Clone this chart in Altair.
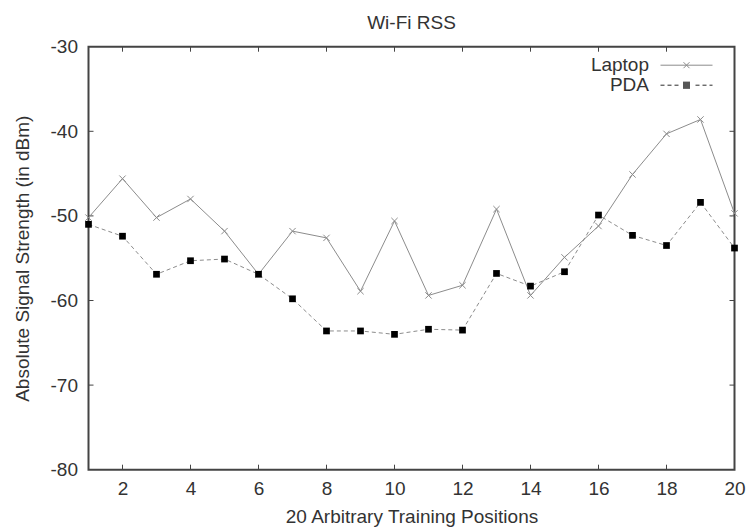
import altair as alt
import pandas as pd

positions = list(range(1, 21))
laptop = [-50.2, -45.6, -50.2, -48.0, -51.8, -56.9, -51.8, -52.6, -58.9, -50.6,
          -59.4, -58.2, -49.2, -59.4, -54.9, -51.2, -45.1, -40.3, -38.6, -49.7]
pda = [-51.0, -52.4, -56.9, -55.3, -55.1, -56.9, -59.8, -63.6, -63.6, -64.0,
       -63.4, -63.5, -56.8, -58.3, -56.6, -49.9, -52.3, -53.5, -48.4, -53.8]
series_names = ["Laptop", "PDA"]
x_ticks = [2, 4, 6, 8, 10, 12, 14, 16, 18, 20]
x_inner_ticks = [2, 4, 6, 8, 10, 12, 14, 16, 18]
y_ticks = [-30, -40, -50, -60, -70, -80]
y_inner_ticks = [-40, -50, -60, -70]

W, H = 646, 423
FONT = "Liberation Sans"
FS = 19
TXT = "#333333"
GRAY = "#8c8c8c"
FRAME = "#444444"

df = pd.DataFrame({
    "pos": positions * 2,
    "rss": laptop + pda,
    "series": ["Laptop"] * 20 + ["PDA"] * 20,
})
xt = pd.DataFrame({"v": x_inner_ticks})
yt = pd.DataFrame({"v": y_inner_ticks})

xscale = alt.Scale(domain=[1, 20], nice=False, zero=False)
yscale = alt.Scale(domain=[-80, -30], nice=False, zero=False)

xenc = alt.X("pos:Q", scale=xscale, axis=alt.Axis(
    values=x_ticks, ticks=False, domain=False, grid=False, labelPadding=10,
    title="20 Arbitrary Training Positions", titleY=46.5, titleBaseline="middle",
    titleFontWeight="normal", labelFlush=False))
yenc = alt.Y("rss:Q", scale=yscale, axis=alt.Axis(
    values=y_ticks, ticks=False, domain=False, grid=False, labelPadding=11,
    labelExpr="'' + datum.value",
    title="Absolute Signal Strength (in dBm)", titleX=-66, titleY=H / 2,
    titleBaseline="middle", titleAlign="center", titleFontWeight="normal"))

cross_path = "M-1,-1L1,1M-1,1L1,-1"

lap_line = alt.Chart(df).transform_filter("datum.series == 'Laptop'").mark_line(
    color=GRAY, strokeWidth=1).encode(x=xenc, y=yenc)
pda_line = alt.Chart(df).transform_filter("datum.series == 'PDA'").mark_line(
    color=GRAY, strokeWidth=1, strokeDash=[4, 3]).encode(x=xenc, y=yenc)
lap_pts = alt.Chart(df).transform_filter("datum.series == 'Laptop'").mark_point(
    shape=cross_path, size=40, filled=False, stroke=GRAY, strokeWidth=1, opacity=1
).encode(x=xenc, y=yenc)
pda_pts = alt.Chart(df).transform_filter("datum.series == 'PDA'").mark_point(
    shape="square", size=45, filled=True, color="black", opacity=1
).encode(x=xenc, y=yenc)

# legend symbols: sample line + marker drawn as strokes (unit r = 5px)
leg_lap = "M-5.2,0H5.2M-0.6,-0.6L0.6,0.6M-0.6,0.6L0.6,-0.6"
parts = []
x0 = -5.2
while x0 < 5.2:
    x1 = min(x0 + 0.8, 5.2)
    if x1 < -1.0 or x0 > 1.0:
        parts.append(f"M{x0:.2f},0H{x1:.2f}")
    x0 += 1.4
yy = -0.6
while yy <= 0.61:
    parts.append(f"M-0.7,{yy:.2f}H0.7")
    yy += 0.2
leg_pda = "".join(parts)

leg = alt.Legend(title=None, orient="none", legendX=588.5, legendY=9,
                 padding=0, rowPadding=0, symbolSize=100,
                 symbolStrokeWidth=1, symbolOpacity=1,
                 labelAlign="right", labelOffset={"expr": "-47"},
                 labelFont=FONT, labelFontSize=FS, labelColor=TXT,
                 labelLimit=200)

legend_layer = alt.Chart(df).transform_filter("datum.pos < 0").mark_point(
    filled=False, strokeWidth=1, opacity=1
).encode(
    x=alt.X("pos:Q", scale=xscale),
    y=alt.Y("rss:Q", scale=yscale),
    shape=alt.Shape("series:N", scale=alt.Scale(domain=series_names, range=[leg_lap, leg_pda]),
                    legend=leg),
    color=alt.Color("series:N", scale=alt.Scale(domain=series_names, range=[GRAY, "#2a2a2a"]),
                    legend=leg),
)

tick_bottom = alt.Chart(xt).mark_rule(color=FRAME, strokeWidth=1).encode(
    x=alt.X("v:Q", scale=xscale), y=alt.value(H), y2=alt.value(H - 5))
tick_top = alt.Chart(xt).mark_rule(color=FRAME, strokeWidth=1).encode(
    x=alt.X("v:Q", scale=xscale), y=alt.value(0), y2=alt.value(5))
tick_left = alt.Chart(yt).mark_rule(color=FRAME, strokeWidth=1).encode(
    y=alt.Y("v:Q", scale=yscale), x=alt.value(0), x2=alt.value(5))
tick_right = alt.Chart(yt).mark_rule(color=FRAME, strokeWidth=1).encode(
    y=alt.Y("v:Q", scale=yscale), x=alt.value(W), x2=alt.value(W - 5))

chart = alt.layer(
    tick_bottom, tick_top, tick_left, tick_right,
    lap_line, pda_line, lap_pts, pda_pts, legend_layer
).properties(
    width=W, height=H,
    background="white",
    title=alt.Title("Wi-Fi RSS", fontSize=FS, fontWeight="normal", font=FONT,
                    color=TXT, offset=5, anchor="middle"),
    autosize=alt.AutoSizeParams(type="none"),
    padding={"left": 88.5, "top": 46.7, "right": 15.5, "bottom": 61.3},
).configure_view(
    stroke=FRAME, strokeWidth=2
).configure_axis(
    labelFont=FONT, labelFontSize=FS, labelColor=TXT,
    titleFont=FONT, titleFontSize=FS, titleColor=TXT,
)

chart.save("out.html", embed_options={"renderer": "svg", "actions": False})
